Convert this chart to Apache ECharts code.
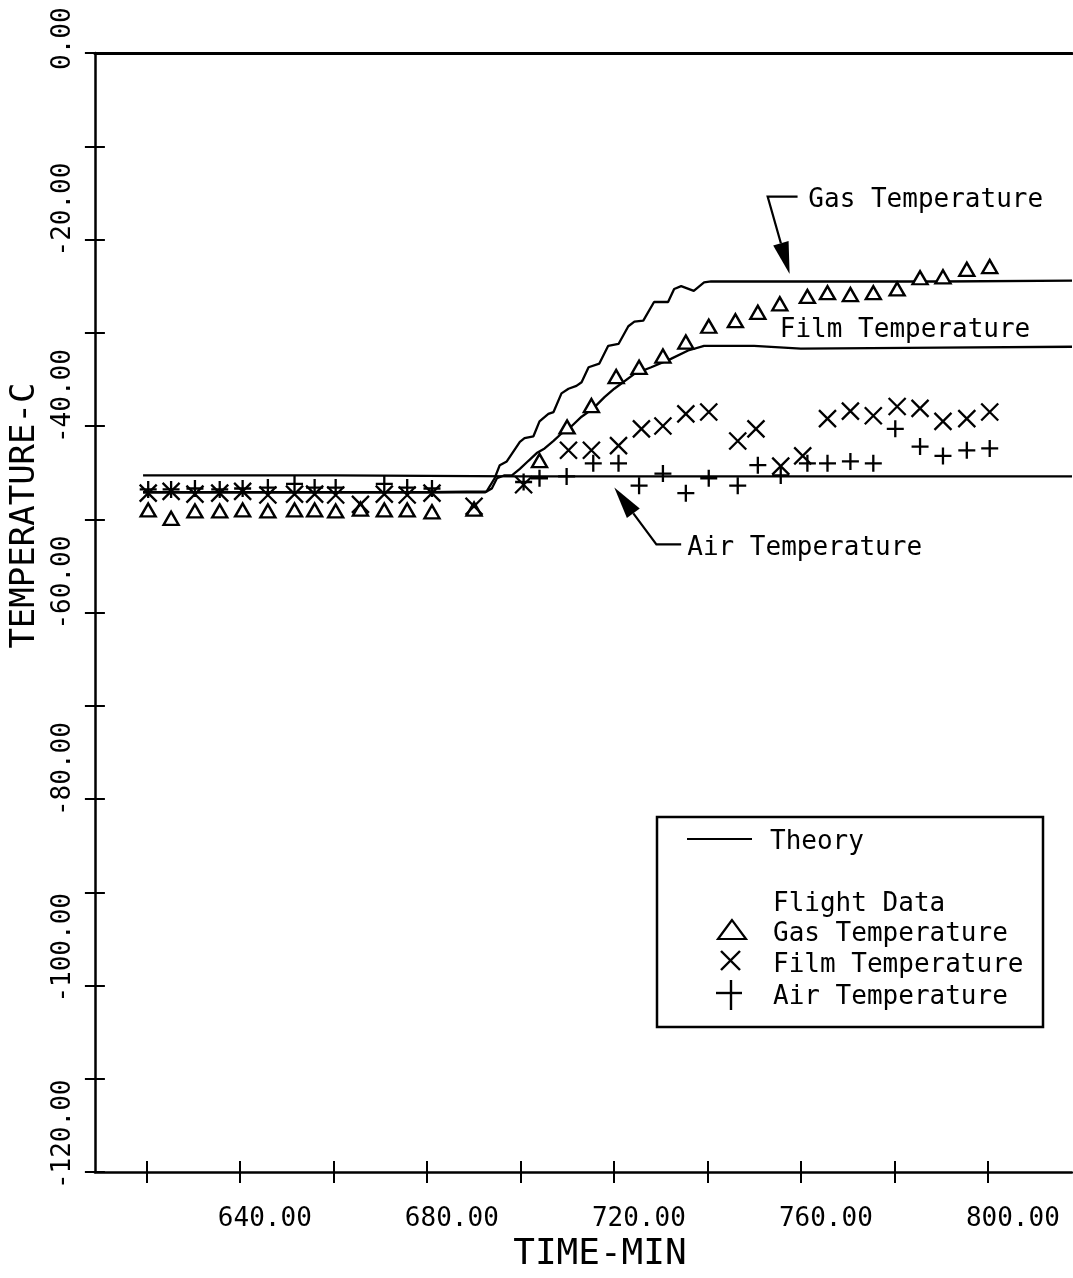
<!DOCTYPE html>
<html><head><meta charset="utf-8">
<script src="https://cdn.jsdelivr.net/npm/echarts@6/dist/echarts.min.js"></script>
<style>html,body{margin:0;padding:0;background:#fff}#c{width:1073px;height:1278px}</style>
</head><body><div id="c"></div>
<script>
// ---- axis ranges / ticks ----
const xMin = 609, xMax = 818;
const yMin = -120, yMax = 0;
const xTickValues = [620, 640, 660, 680, 700, 720, 740, 760, 780, 800];
const xLabelValues = [640, 680, 720, 760, 800];

// ---- theory curves ----
const gasTheoryT = [619.3, 650, 680, 692.8, 694.5, 695.6, 697.1, 699.9, 700.9, 702.8, 704.1, 706.0, 707.1, 708.8, 710.3, 712.0, 713.1, 714.6, 716.9, 718.8, 721.0, 723.1, 724.4, 726.3, 728.6, 731.6, 732.9, 734.4, 737.1, 739.3, 740.8, 760, 790, 818];
const gasTheoryV = [-47.1, -47.1, -47.1, -47.0, -45.6, -44.2, -43.8, -41.7, -41.3, -41.1, -39.5, -38.7, -38.5, -36.5, -36.0, -35.7, -35.3, -33.7, -33.3, -31.4, -31.2, -29.3, -28.8, -28.7, -26.7, -26.7, -25.3, -25.0, -25.5, -24.6, -24.5, -24.5, -24.5, -24.4];
const filmTheoryT = [619.3, 650, 680, 692.5, 693.9, 695.0, 696.5, 698.2, 699.9, 701.8, 703.5, 705.2, 707.1, 708.8, 711.0, 713.1, 715.6, 718.0, 720.1, 724.4, 728.0, 732.2, 735.9, 739.3, 750, 760, 790, 818];
const filmTheoryV = [-47.1, -47.1, -47.1, -47.1, -46.7, -45.6, -45.3, -45.3, -44.6, -43.7, -42.9, -42.4, -41.6, -40.8, -40.0, -39.0, -38.1, -36.9, -36.0, -34.4, -33.7, -32.8, -31.9, -31.4, -31.4, -31.7, -31.6, -31.5];
const airTheoryT = [619.3, 660, 700, 760, 818];
const airTheoryV = [-45.3, -45.3, -45.4, -45.4, -45.4];

// ---- flight data ----
const gasDataT = [620.4, 625.3, 630.4, 635.7, 640.6, 646.0, 651.7, 656.0, 660.5, 665.8, 670.9, 675.8, 681.1, 690.1, 704.1, 710.0, 715.2, 720.5, 725.4, 730.5, 735.4, 740.3, 746.0, 750.8, 755.5, 761.4, 765.7, 770.6, 775.5, 780.6, 785.5, 790.4, 795.5, 800.4];
const gasDataV = [-49.0, -49.9, -49.1, -49.1, -49.0, -49.1, -49.0, -49.0, -49.1, -48.9, -49.0, -49.0, -49.2, -48.9, -43.7, -40.1, -37.8, -34.7, -33.7, -32.5, -31.0, -29.3, -28.7, -27.8, -26.9, -26.1, -25.7, -25.9, -25.7, -25.3, -24.1, -24.0, -23.2, -22.9];
const filmDataT = [620.4, 625.3, 630.4, 635.7, 640.6, 646.0, 651.7, 656.0, 660.5, 665.8, 670.9, 675.8, 681.1, 690.1, 700.7, 710.3, 715.2, 721.0, 725.9, 730.5, 735.4, 740.3, 746.5, 750.4, 755.7, 760.4, 765.7, 770.6, 775.5, 780.6, 785.5, 790.4, 795.5, 800.4];
const filmDataV = [-47.2, -47.0, -47.3, -47.2, -47.0, -47.4, -47.3, -47.3, -47.4, -48.4, -47.3, -47.4, -47.2, -48.6, -46.3, -42.6, -42.6, -42.1, -40.3, -40.0, -38.7, -38.5, -41.6, -40.3, -44.3, -43.2, -39.2, -38.4, -38.9, -37.9, -38.1, -39.5, -39.2, -38.5];
const airDataT = [620.4, 625.3, 630.4, 635.7, 640.6, 646.0, 651.7, 656.0, 660.5, 670.9, 675.8, 681.1, 700.7, 704.1, 709.9, 715.6, 721.0, 725.4, 730.5, 735.4, 740.3, 746.5, 750.8, 755.7, 761.4, 765.7, 770.6, 775.5, 780.2, 785.5, 790.4, 795.5, 800.4];
const airDataV = [-46.8, -46.8, -46.7, -46.8, -46.7, -46.6, -46.2, -46.6, -46.6, -46.2, -46.6, -46.7, -46.0, -45.6, -45.4, -44.0, -44.0, -46.4, -45.1, -47.2, -45.6, -46.4, -44.2, -45.3, -44.0, -44.0, -43.8, -44.0, -40.3, -42.2, -43.2, -42.6, -42.4];

// ---- annotation anchors (data coordinates) ----
const gasLabelAt = [761.6, -15.4];
const gasArrow = [[759.3, -15.4], [752.9, -15.4], [757.6, -23.7]];
const filmLabelAt = [755.5, -29.3];
const airLabelAt = [735.7, -52.7];
const airArrow = [[734.4, -52.7], [729.1, -52.7], [720.1, -46.6]];

const zip = (a, b) => a.map((v, i) => [v, b[i]]);
const FONT = 'DejaVu Sans Mono';
const INK = '#000';

const chart = echarts.init(document.getElementById('c'), null, {renderer: 'canvas'});

function yLabel(v) {
  if (Math.round(v) % 20 !== 0) return '';
  const s = v.toFixed(2);
  return '{s' + s.length + '|' + s + '}';
}
const CW = 15.65;
const yRich = {};
[4, 5, 6, 7].forEach(n => { yRich['s' + n] = {fontFamily: FONT, fontSize: 26, color: INK, padding: [0, 0, 0, Math.max(0, n * CW - 34)]}; });

const option = {
  animation: false,
  backgroundColor: '#fff',
  grid: {left: 91, right: 1, top: 53, bottom: 102, containLabel: false},
  xAxis: [
    {
      type: 'value', min: xMin, max: xMax, position: 'bottom',
      name: 'TIME-MIN', nameLocation: 'middle', nameGap: 56,
      nameTextStyle: {fontFamily: FONT, fontSize: 36, color: INK, padding: [0, 0, 0, 33]},
      axisLine: {show: true, onZero: false, lineStyle: {color: INK, width: 2.5}},
      axisTick: {show: true, length: 11, customValues: xTickValues, lineStyle: {color: INK, width: 2}},
      axisLabel: {show: true, customValues: xLabelValues, margin: 34, fontFamily: FONT, fontSize: 26, color: INK,
        padding: [0, 0, 0, 50], formatter: v => v.toFixed(2)},
      splitLine: {show: false}
    },
    {
      type: 'value', min: xMin, max: xMax, position: 'bottom',
      axisLine: {show: false, onZero: false},
      axisTick: {show: true, inside: true, length: 11, customValues: xTickValues, lineStyle: {color: INK, width: 2}},
      axisLabel: {show: false}, splitLine: {show: false}
    },
    {
      type: 'value', min: xMin, max: xMax, position: 'top',
      axisLine: {show: true, onZero: false, lineStyle: {color: INK, width: 3}},
      axisTick: {show: false}, axisLabel: {show: false}, splitLine: {show: false}
    }
  ],
  yAxis: [
    {
      type: 'value', min: yMin, max: yMax, interval: 10, position: 'left',
      name: 'TEMPERATURE-C', nameLocation: 'middle', nameGap: 38,
      nameTextStyle: {fontFamily: FONT, fontSize: 34, color: INK, padding: [0, 0, 0, 194]},
      axisLine: {show: true, onZero: false, lineStyle: {color: INK, width: 2.5}},
      axisTick: {show: true, length: 10, lineStyle: {color: INK, width: 2}},
      axisLabel: {show: true, rotate: 90, margin: 19, formatter: yLabel, rich: yRich, fontFamily: FONT, fontSize: 26, color: INK},
      splitLine: {show: false}
    },
    {
      type: 'value', min: yMin, max: yMax, interval: 10, position: 'left',
      axisLine: {show: false, onZero: false},
      axisTick: {show: true, inside: true, length: 10, lineStyle: {color: INK, width: 2}},
      axisLabel: {show: false}, splitLine: {show: false}
    }
  ],
  series: [
    {name: 'Gas Theory', type: 'line', data: zip(gasTheoryT, gasTheoryV), showSymbol: false, symbol: 'none',
      lineStyle: {color: INK, width: 2.3}, z: 3},
    {name: 'Film Theory', type: 'line', data: zip(filmTheoryT, filmTheoryV), showSymbol: false, symbol: 'none',
      lineStyle: {color: INK, width: 2.3}, z: 3},
    {name: 'Air Theory', type: 'line', data: zip(airTheoryT, airTheoryV), showSymbol: false, symbol: 'none',
      lineStyle: {color: INK, width: 2.3}, z: 3},
    {name: 'Gas Temperature', type: 'scatter', data: zip(gasDataT, gasDataV), symbol: 'triangle', symbolSize: [15, 13],
      itemStyle: {color: '#fff', borderColor: INK, borderWidth: 2.4, opacity: 1}, z: 4},
    {name: 'Film Temperature', type: 'scatter', data: zip(filmDataT, filmDataV), symbol: 'path://M0 0L10 10M10 0L0 10', symbolSize: 17,
      itemStyle: {color: 'none', borderColor: INK, borderWidth: 2.3, opacity: 1}, z: 5},
    {name: 'Air Temperature', type: 'scatter', data: zip(airDataT, airDataV), symbol: 'path://M5 0L5 10M0 5L10 5', symbolSize: 17,
      itemStyle: {color: 'none', borderColor: INK, borderWidth: 2.3, opacity: 1}, z: 5}
  ]
};
chart.setOption(option);

// ---- annotations and legend box ----
const px = p => chart.convertToPixel({xAxisIndex: 0, yAxisIndex: 0}, p);
function arrow(pts, headLen, headHalf) {
  const P = pts.map(px);
  const tip = P[P.length - 1], prev = P[P.length - 2];
  const dx = tip[0] - prev[0], dy = tip[1] - prev[1], L = Math.hypot(dx, dy);
  const ux = dx / L, uy = dy / L, bx = tip[0] - ux * headLen, by = tip[1] - uy * headLen;
  return [
    {type: 'polyline', shape: {points: P.slice(0, -1).concat([[bx, by]])}, style: {stroke: INK, lineWidth: 2.2, fill: null}},
    {type: 'polygon', shape: {points: [tip, [bx - uy * headHalf, by + ux * headHalf], [bx + uy * headHalf, by - ux * headHalf]]}, style: {fill: INK}}
  ];
}
const TY = 4; // baseline nudge for the plotter-like text
function label(at, text) {
  const p = px(at);
  return {type: 'text', x: p[0], y: p[1] + TY, style: {text: text, fontFamily: FONT, fontSize: 26, fill: INK, align: 'left', verticalAlign: 'middle'}};
}
const LT = {fontFamily: FONT, fontSize: 26, fill: INK, align: 'left', verticalAlign: 'middle'};
const graphic = [
  label(gasLabelAt, 'Gas Temperature'),
  label(filmLabelAt, 'Film Temperature'),
  label(airLabelAt, 'Air Temperature'),
  ...arrow(gasArrow, 32, 8),
  ...arrow(airArrow, 32, 8),
  {type: 'rect', shape: {x: 657, y: 817, width: 386, height: 210}, style: {fill: '#fff', stroke: INK, lineWidth: 2.5}, z: 10},
  {type: 'line', shape: {x1: 687, y1: 839, x2: 752, y2: 839}, style: {stroke: INK, lineWidth: 2.2}, z: 11},
  {type: 'text', x: 770, y: 839 + TY - 1, style: Object.assign({text: 'Theory'}, LT), z: 11},
  {type: 'text', x: 773, y: 901 + TY - 1, style: Object.assign({text: 'Flight Data'}, LT), z: 11},
  {type: 'polygon', shape: {points: [[732, 920], [718, 939], [746, 939]]}, style: {fill: '#fff', stroke: INK, lineWidth: 2.2}, z: 11},
  {type: 'text', x: 773, y: 931 + TY - 1, style: Object.assign({text: 'Gas Temperature'}, LT), z: 11},
  {type: 'polyline', shape: {points: [[721, 951], [740, 970]]}, style: {stroke: INK, lineWidth: 2.4}, z: 11},
  {type: 'polyline', shape: {points: [[740, 951], [721, 970]]}, style: {stroke: INK, lineWidth: 2.4}, z: 11},
  {type: 'text', x: 773, y: 962 + TY - 1, style: Object.assign({text: 'Film Temperature'}, LT), z: 11},
  {type: 'polyline', shape: {points: [[716, 993], [742, 993]]}, style: {stroke: INK, lineWidth: 2.4}, z: 11},
  {type: 'polyline', shape: {points: [[731, 980], [731, 1010]]}, style: {stroke: INK, lineWidth: 2.4}, z: 11},
  {type: 'text', x: 773, y: 994 + TY - 1, style: Object.assign({text: 'Air Temperature'}, LT), z: 11}
];
chart.setOption({graphic: graphic});
</script></body></html>
